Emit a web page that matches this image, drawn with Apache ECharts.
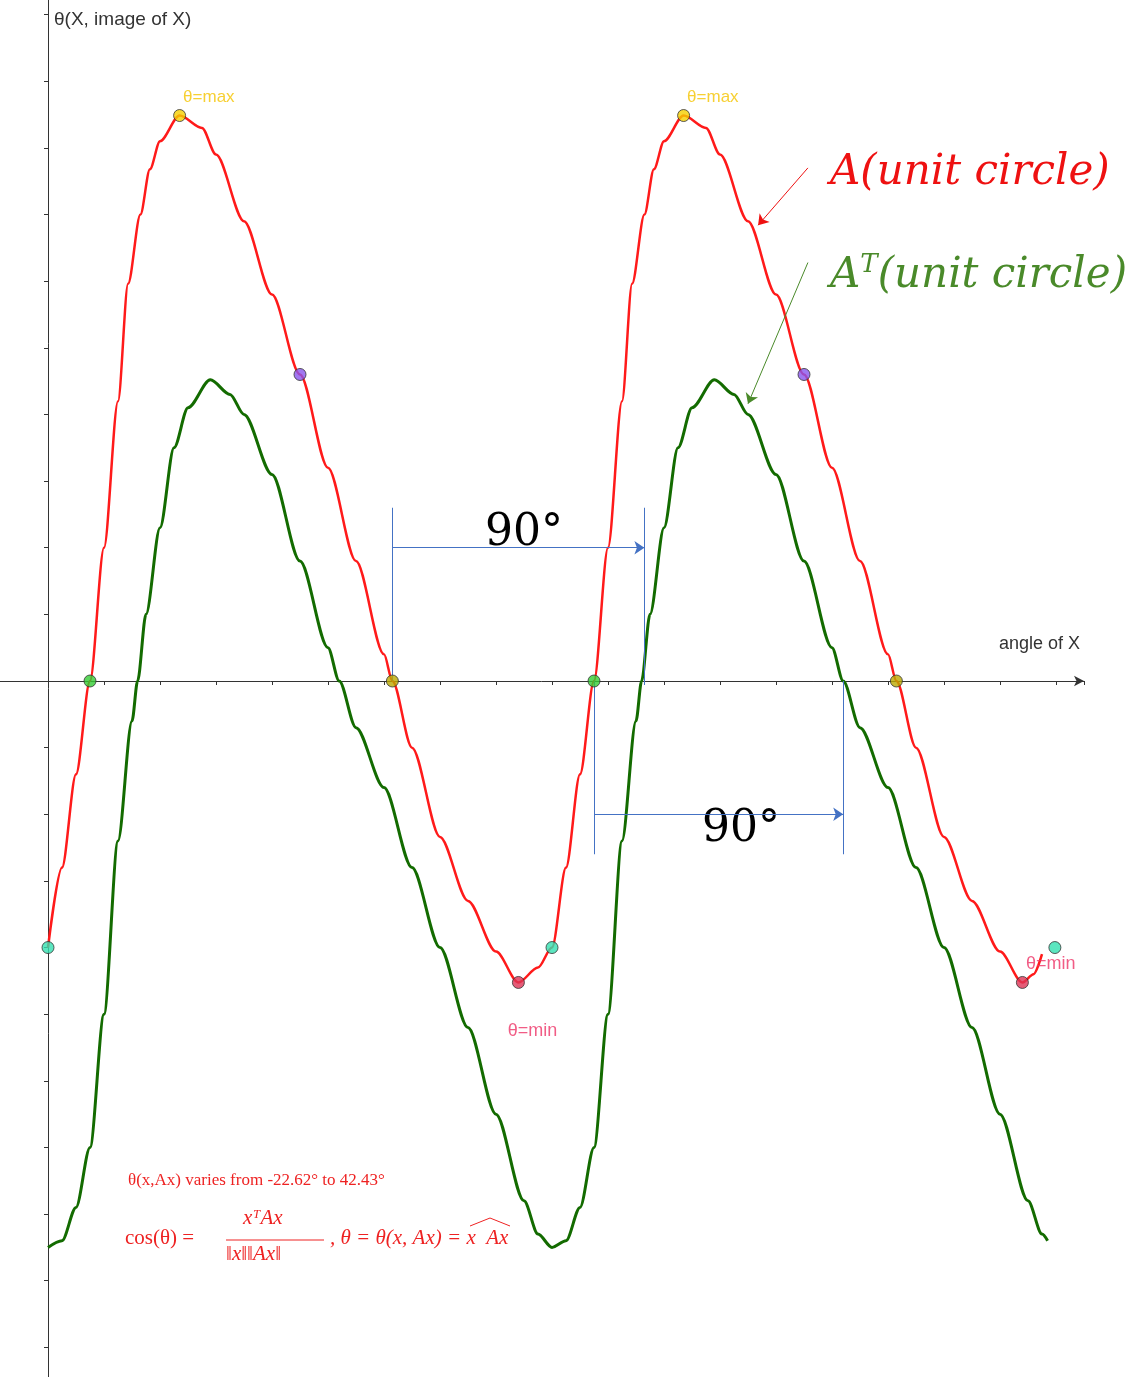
<!DOCTYPE html>
<html><head><meta charset="utf-8">
<script src="https://cdn.jsdelivr.net/npm/echarts@6/dist/echarts.min.js"></script>
<style>html,body{margin:0;padding:0;background:#fff}#c{width:1135px;height:1377px}</style>
</head><body><div id="c"></div>
<script>
const redX = [0,5,10,15,20,25,28.6,33,36.4,40,47,55,60,70,80,90,100,110,120,123,130,140,150,160,168,175,180,185,190,195,200,205,208.6,213,216.4,220,227,235,240,250,260,270,280,290,300,303,310,320,330,340,348,352,355];
const redY = [-20,-14,-7,0,10,21,29.8,35,38.4,40.5,42.43,41.5,39.5,34.5,29,23,16,9,2,0,-5,-11.7,-16.5,-20.3,-22.62,-21.5,-20,-14,-7,0,10,21,29.8,35,38.4,40.5,42.43,41.5,39.5,34.5,29,23,16,9,2,0,-5,-11.7,-16.5,-20.3,-22.62,-22,-20.5];
const greenX = [0,5,10,15,20,25,30,32,35,40,45,50,58,65,70,80,90,100,104,110,120,130,140,150,160,170,175,180,185,190,195,200,205,210,212,215,220,225,230,238,245,250,260,270,280,284,290,300,310,320,330,340,350,355,357];
const greenY = [-42.5,-42,-39.5,-35,-25,-12,-3,0,5,11.5,17.5,20.5,22.6,21.5,20,15.5,9,2.5,0,-3.5,-8,-14,-20,-26,-32.5,-39,-41.5,-42.5,-42,-39.5,-35,-25,-12,-3,0,5,11.5,17.5,20.5,22.6,21.5,20,15.5,9,2.5,0,-3.5,-8,-14,-20,-26,-32.5,-39,-41.5,-42];
const cyanPts = [[0,-20],[180,-20],[359.6,-20]];
const greenPts = [[15,0],[195,0]];
const olivePts = [[123,0],[303,0]];
const maxPts = [[47,42.43],[227,42.43]];
const purplePts = [[90,23],[270,23]];
const minPts = [[168,-22.62],[348,-22.62]];
const xTicks = {min:-20, max:370, interval:20};
const yTicks = {min:-55, max:55, interval:5};

const zip=(a,b)=>a.map((v,i)=>[v,b[i]]);
const pt=(d,c)=>({type:'scatter',data:d,symbolSize:12,itemStyle:{color:c,borderColor:'#333',borderWidth:1},z:5});
const neg=v=>String(v).replace('-','\u2212');
const blue='#4472c4';
const font='Arial, Liberation Sans';
const chart=echarts.init(document.getElementById('c'));
chart.setOption({
 animation:false,
 grid:{left:-8,width:1092,top:-52,height:1466,containLabel:false,outerBoundsMode:'none'},
 xAxis:{type:'value',min:xTicks.min,max:xTicks.max,interval:xTicks.interval,
  axisLine:{onZero:true,symbol:['none','arrow'],symbolSize:[8,10],lineStyle:{color:'#333'}},
  axisTick:{show:true,length:4,lineStyle:{color:'#333'}},splitLine:{show:false},
  axisLabel:{color:'#333',fontSize:14,fontFamily:font,formatter:v=>(v<=0||v>360)?'':String(v)},
  name:'angle of X',nameLocation:'end',nameGap:-85,nameTextStyle:{color:'#333',fontSize:18,fontFamily:font,verticalAlign:'bottom',padding:[0,0,28,0]}},
 yAxis:{type:'value',min:yTicks.min,max:yTicks.max,interval:yTicks.interval,
  axisLine:{onZero:true,symbol:['none','none'],lineStyle:{color:'#333'}},
  axisTick:{show:true,length:4,lineStyle:{color:'#333'}},splitLine:{show:false},
  axisLabel:{color:'#333',fontSize:14,fontFamily:font,formatter:v=>Math.abs(v)>45?'':neg(v)}},
 graphic:[
  {type:'text',left:54,top:10,style:{text:'θ(X, image of X)',fontSize:19,fill:'#333',fontFamily:font}},
  {type:'text',left:485,top:512,style:{text:'90°',fontSize:44,fill:'#000',fontFamily:'DejaVu Serif, serif'}},
  {type:'text',left:702,top:808,style:{text:'90°',fontSize:44,fill:'#000',fontFamily:'DejaVu Serif, serif'}},
  {type:'text',left:830,top:152,style:{text:'A(unit circle)',fontSize:42,fill:'#ee1111',fontStyle:'italic',fontFamily:'DejaVu Serif, serif'}},
  {type:'text',left:830,top:252,style:{text:'{a|A}{s|T}{a|(unit circle)}',rich:{a:{fontSize:42,fill:'#4a8a2a',fontStyle:'italic',fontFamily:'DejaVu Serif, serif'},s:{fontSize:26,fill:'#4a8a2a',fontStyle:'italic',fontFamily:'DejaVu Serif, serif',verticalAlign:'top',padding:[0,0,22,0]}}}},
  {type:'text',left:128,top:1172,style:{text:'θ(x,Ax) varies from -22.62° to 42.43°',fontSize:17,fill:'#ee2222',fontFamily:'Liberation Serif, serif'}},
  {type:'text',left:125,top:1228,style:{text:'cos(θ) =',fontSize:21,fill:'#ee2222',fontFamily:'Liberation Serif, serif'}},
  {type:'text',left:243,top:1208,style:{text:'xᵀAx',fontSize:21,fill:'#ee2222',fontStyle:'italic',fontFamily:'Liberation Serif, serif'}},
  {type:'line',shape:{x1:226,y1:1240,x2:324,y2:1240},style:{stroke:'#ee2222',lineWidth:1}},
  {type:'text',left:226,top:1244,style:{text:'‖x‖‖Ax‖',fontSize:21,fill:'#ee2222',fontStyle:'italic',fontFamily:'Liberation Serif, serif'}},
  {type:'text',left:330,top:1228,style:{text:', θ = θ(x, Ax) = x  Ax',fontSize:21,fill:'#ee2222',fontStyle:'italic',fontFamily:'Liberation Serif, serif'}},
  {type:'polyline',shape:{points:[[470,1226],[490,1218],[510,1226]]},style:{stroke:'#ee2222',fill:null,lineWidth:1}}
 ],
 series:[
  {type:'line',data:zip(redX,redY),smooth:0.3,smoothMonotone:'x',showSymbol:false,lineStyle:{color:'#ff1a1a',width:2.5},z:3,
   markLine:{symbol:['none','arrow'],symbolSize:10,silent:true,label:{show:false},lineStyle:{type:'solid',width:1},
    data:[
     [{coord:[271.4,38.5],lineStyle:{color:'#ee1111'}},{coord:[253.6,34.2]}],
     [{coord:[271.4,31.4],lineStyle:{color:'#4a8a2a'}},{coord:[250,20.8]}],
     [{coord:[123,10],lineStyle:{color:blue}},{coord:[213,10]}],
     [{coord:[195,-10],lineStyle:{color:blue}},{coord:[284,-10]}]
    ]}},
  {type:'line',data:zip(greenX,greenY),smooth:0.3,smoothMonotone:'x',showSymbol:false,lineStyle:{color:'#136b00',width:3},z:2,
   markLine:{symbol:'none',silent:true,label:{show:false},lineStyle:{type:'solid',width:1,color:blue},
    data:[[{coord:[123,13]},{coord:[123,0]}],[{coord:[213,13]},{coord:[213,-0.3]}],
          [{coord:[195,0]},{coord:[195,-13]}],[{coord:[284,0]},{coord:[284,-13]}]]}},
  pt(cyanPts,'#33e0b0'),pt(greenPts,'#33cc33'),pt(olivePts,'#bbaa00'),pt(purplePts,'#8855ee'),
  Object.assign(pt(maxPts,'#f5d000'),{label:{show:true,formatter:'θ=max',position:'right',offset:[-8,-18],color:'#f5c400',fontSize:17,fontFamily:font}}),
  Object.assign(pt(minPts,'#dd3355'),{data:[
    {value:minPts[0],label:{show:true,formatter:'θ=min',position:'bottom',offset:[14,28],color:'#ee3366',fontSize:18,fontFamily:font}},
    {value:minPts[1],label:{show:true,formatter:'θ=min',position:'right',offset:[-8,-18],color:'#ee3366',fontSize:18,fontFamily:font}}]})
 ]
});
</script></body></html>
